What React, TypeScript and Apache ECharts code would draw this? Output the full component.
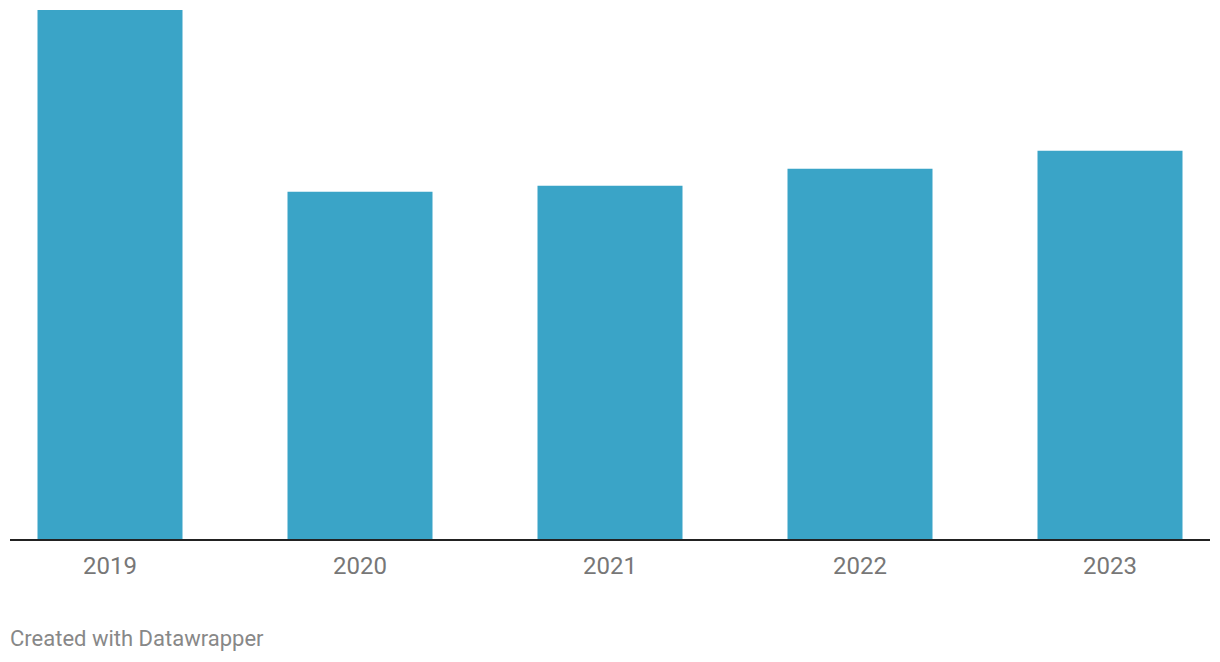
import React, { useEffect, useRef } from "react";
import * as echarts from "echarts";

const categories = ["2019", "2020", "2021", "2022", "2023"];
const values = [530, 348, 354, 371, 389];
const footer = "Created with Datawrapper";

export default function App() {
  const ref = useRef<HTMLDivElement>(null);
  useEffect(() => {
    document.body.style.margin = "0";
    const chart = echarts.init(ref.current!, null, { renderer: "svg" });
    chart.setOption({
      animation: false,
      backgroundColor: "#ffffff",
      grid: { left: 0, right: 0, top: 10, height: 529 },
      xAxis: {
        type: "category",
        data: categories,
        axisLine: { show: false },
        axisTick: { show: false },
        axisLabel: {
          color: "#777777",
          fontSize: 24,
          fontFamily: "Roboto",
          margin: 15,
        },
      },
      yAxis: {
        type: "value",
        min: 0,
        max: 530,
        show: false,
        splitLine: { show: false },
      },
      series: [
        {
          type: "bar",
          data: values,
          barWidth: 145,
          itemStyle: { color: "#3aa4c7" },
        },
      ],
      graphic: [
        {
          type: "line",
          shape: { x1: 25, y1: 540, x2: 1225, y2: 540 },
          style: { stroke: "#222222", lineWidth: 2 },
          z: 10,
        },
        {
          type: "text",
          left: 25,
          top: 627,
          style: {
            text: footer,
            fill: "#888888",
            fontSize: 22,
            fontFamily: "Roboto",
          },
        },
      ],
    });
    return () => chart.dispose();
  }, []);
  return (
    <div style={{ width: 1220, height: 662, overflow: "hidden", position: "relative" }}>
      <div ref={ref} style={{ width: 1250, height: 662, position: "absolute", left: -15, top: 0 }} />
    </div>
  );
}
